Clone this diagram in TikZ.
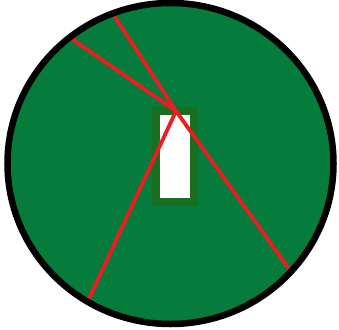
\documentclass[tikz,border=0pt]{standalone}
\definecolor{fieldgreen}{RGB}{5,124,60}
\definecolor{framegreen}{RGB}{26,110,32}
\definecolor{cutred}{RGB}{237,28,36}
\begin{document}
\begin{tikzpicture}[x=1pt, y=-1pt, cut/.style={draw=cutred, line width=3.8pt, line cap=round}]
  \useasboundingbox (0,0) rectangle (339,329);

  \fill[fieldgreen] (170.5,163.5) ellipse (163 and 160.5);
  \draw[fill=white, draw=framegreen, line width=7.5pt] (156,111) rectangle (194,202);

  % punti sul bordo
  \coordinate (hub) at (176,111);
  \coordinate (rimA) at (72,39);
  \coordinate (rimB) at (113,14);
  \coordinate (rimC) at (292,273);
  \coordinate (rimD) at (88,301);

  \draw[cut] (rimA) -- (hub);
  \draw[cut] (rimB) -- (hub);
  \draw[cut] (hub) -- (rimC);
  \draw[cut] (hub) -- (rimD);

  \draw[line width=6.5pt] (170.5,163.5) ellipse (163 and 160.5);
\end{tikzpicture}
\end{document}
